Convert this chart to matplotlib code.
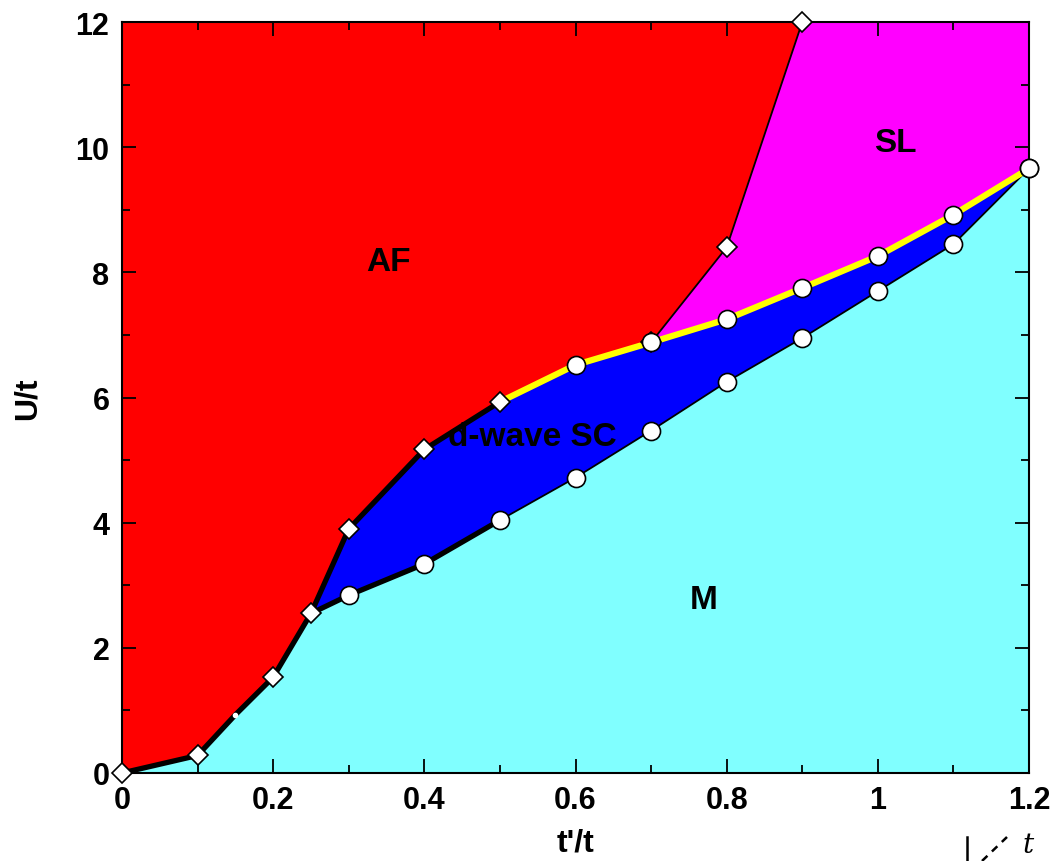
import matplotlib
matplotlib.use('Agg')
import matplotlib.pyplot as plt
import numpy as np

# phase boundaries (t'/t, U/t)
af_m_x = [0.0, 0.1, 0.15, 0.2, 0.25]
af_m_y = [0.0, 0.28, 0.93, 1.53, 2.55]

af_sc_x = [0.25, 0.3, 0.4, 0.5]
af_sc_y = [2.55, 3.9, 5.17, 5.93]

sc_m_x = [0.25, 0.3, 0.4, 0.5, 0.6, 0.7, 0.8, 0.9, 1.0, 1.1, 1.2]
sc_m_y = [2.55, 2.84, 3.34, 4.04, 4.72, 5.47, 6.25, 6.95, 7.7, 8.45, 9.66]

sc_up_x = [0.5, 0.6, 0.7, 0.8, 0.9, 1.0, 1.1, 1.2]
sc_up_y = [5.93, 6.52, 6.88, 7.25, 7.75, 8.26, 8.92, 9.66]

af_sl_x = [0.7, 0.8, 0.9]
af_sl_y = [6.88, 8.4, 12.0]

xmax, ymax = 1.2, 12.0

plt.rcParams['font.family'] = ['Liberation Sans', 'DejaVu Sans']
plt.rcParams['font.weight'] = 'bold'

fig = plt.figure(figsize=(10.59, 8.62), dpi=100)
ax = fig.add_axes([0.1152, 0.1021, 0.8565, 0.8712])
ax.set_facecolor('#ff0000')

# M region (cyan): below AF/M + SC/M
low_x = af_m_x + sc_m_x[1:]
low_y = af_m_y + sc_m_y[1:]
ax.fill(low_x + [xmax, 0.0], low_y + [0.0, 0.0], color='#80ffff', lw=0)

# d-wave SC (blue)
up_x = af_sc_x + sc_up_x[1:]
up_y = af_sc_y + sc_up_y[1:]
ax.fill(sc_m_x + up_x[::-1], sc_m_y + up_y[::-1], color='#0000ff', lw=0)

# SL (magenta)
sl_x = sc_up_x[2:] + [xmax] + af_sl_x[::-1]
sl_y = sc_up_y[2:] + [ymax] + af_sl_y[::-1]
ax.fill(sl_x, sl_y, color='#ff00ff', lw=0)

# boundary lines
ax.plot(af_m_x, af_m_y, color='black', lw=3.8, zorder=3)
ax.plot(af_sc_x, af_sc_y, color='black', lw=3.8, zorder=3)
ax.plot(sc_m_x[:4], sc_m_y[:4], color='black', lw=3.8, zorder=3)
ax.plot(sc_m_x[3:], sc_m_y[3:], color='black', lw=1.3, zorder=3)
ax.plot(af_sl_x, af_sl_y, color='black', lw=1.3, zorder=3)
ax.plot(sc_up_x, sc_up_y, color='#ffff00', lw=4.5, zorder=3)

mk = dict(ls='none', mfc='white', mec='black', mew=1.2, zorder=5, clip_on=False)
d_x = [af_m_x[i] for i in (0, 1, 3, 4)] + af_sc_x[1:] + af_sl_x
d_y = [af_m_y[i] for i in (0, 1, 3, 4)] + af_sc_y[1:] + af_sl_y
ax.plot(d_x, d_y, marker='D', ms=10, **mk)
ax.plot(af_m_x[2], af_m_y[2], marker='o', ms=3, ls='none', color='white', zorder=5)
ax.plot(sc_m_x[1:], sc_m_y[1:], marker='o', ms=13, **mk)
ax.plot(sc_up_x[1:], sc_up_y[1:], marker='o', ms=13, **mk)

# phase labels
lab = dict(fontsize=24, fontweight='bold', ha='center', va='center', zorder=6)
ax.text(0.352, 8.18, 'AF', **lab)
ax.text(1.023, 10.08, 'SL', **lab)
ax.text(0.543, 5.37, 'd-wave SC', **lab)
ax.text(0.769, 2.78, 'M', **lab)

ax.set_xlim(0, xmax)
ax.set_ylim(0, ymax)
ax.set_xticks([0, 0.2, 0.4, 0.6, 0.8, 1.0, 1.2])
ax.set_xticklabels(['0', '0.2', '0.4', '0.6', '0.8', '1', '1.2'])
ax.set_xticks(np.arange(0.1, 1.2, 0.2), minor=True)
ax.set_yticks([0, 2, 4, 6, 8, 10, 12])
ax.set_yticks([1, 3, 5, 7, 9, 11], minor=True)
ax.tick_params(which='both', direction='in', top=True, right=True, labelsize=22, width=1.3)
ax.tick_params(which='major', length=10, pad=9)
ax.tick_params(which='minor', length=6)
for s in ax.spines.values():
    s.set_linewidth(1.5)
ax.set_xlabel("t'/t", fontsize=23, fontweight='bold', labelpad=9)
ax.set_ylabel('U/t', fontsize=23, fontweight='bold', labelpad=24)

# cropped piece of the lattice sketch at the bottom right
fig.add_artist(plt.Line2D([967/1059, 967/1059], [0, 24/862], color='black', lw=1.8))
fig.add_artist(plt.Line2D([982/1059, 1007/1059], [0, 24/862], color='black', lw=1.8, ls=(0, (3, 2.5))))
fig.text(1028/1059, 3/862, 't', fontsize=20, style='italic', fontweight='normal',
         family='DejaVu Serif', ha='center', va='bottom')

fig.savefig('out.png', dpi=100)
